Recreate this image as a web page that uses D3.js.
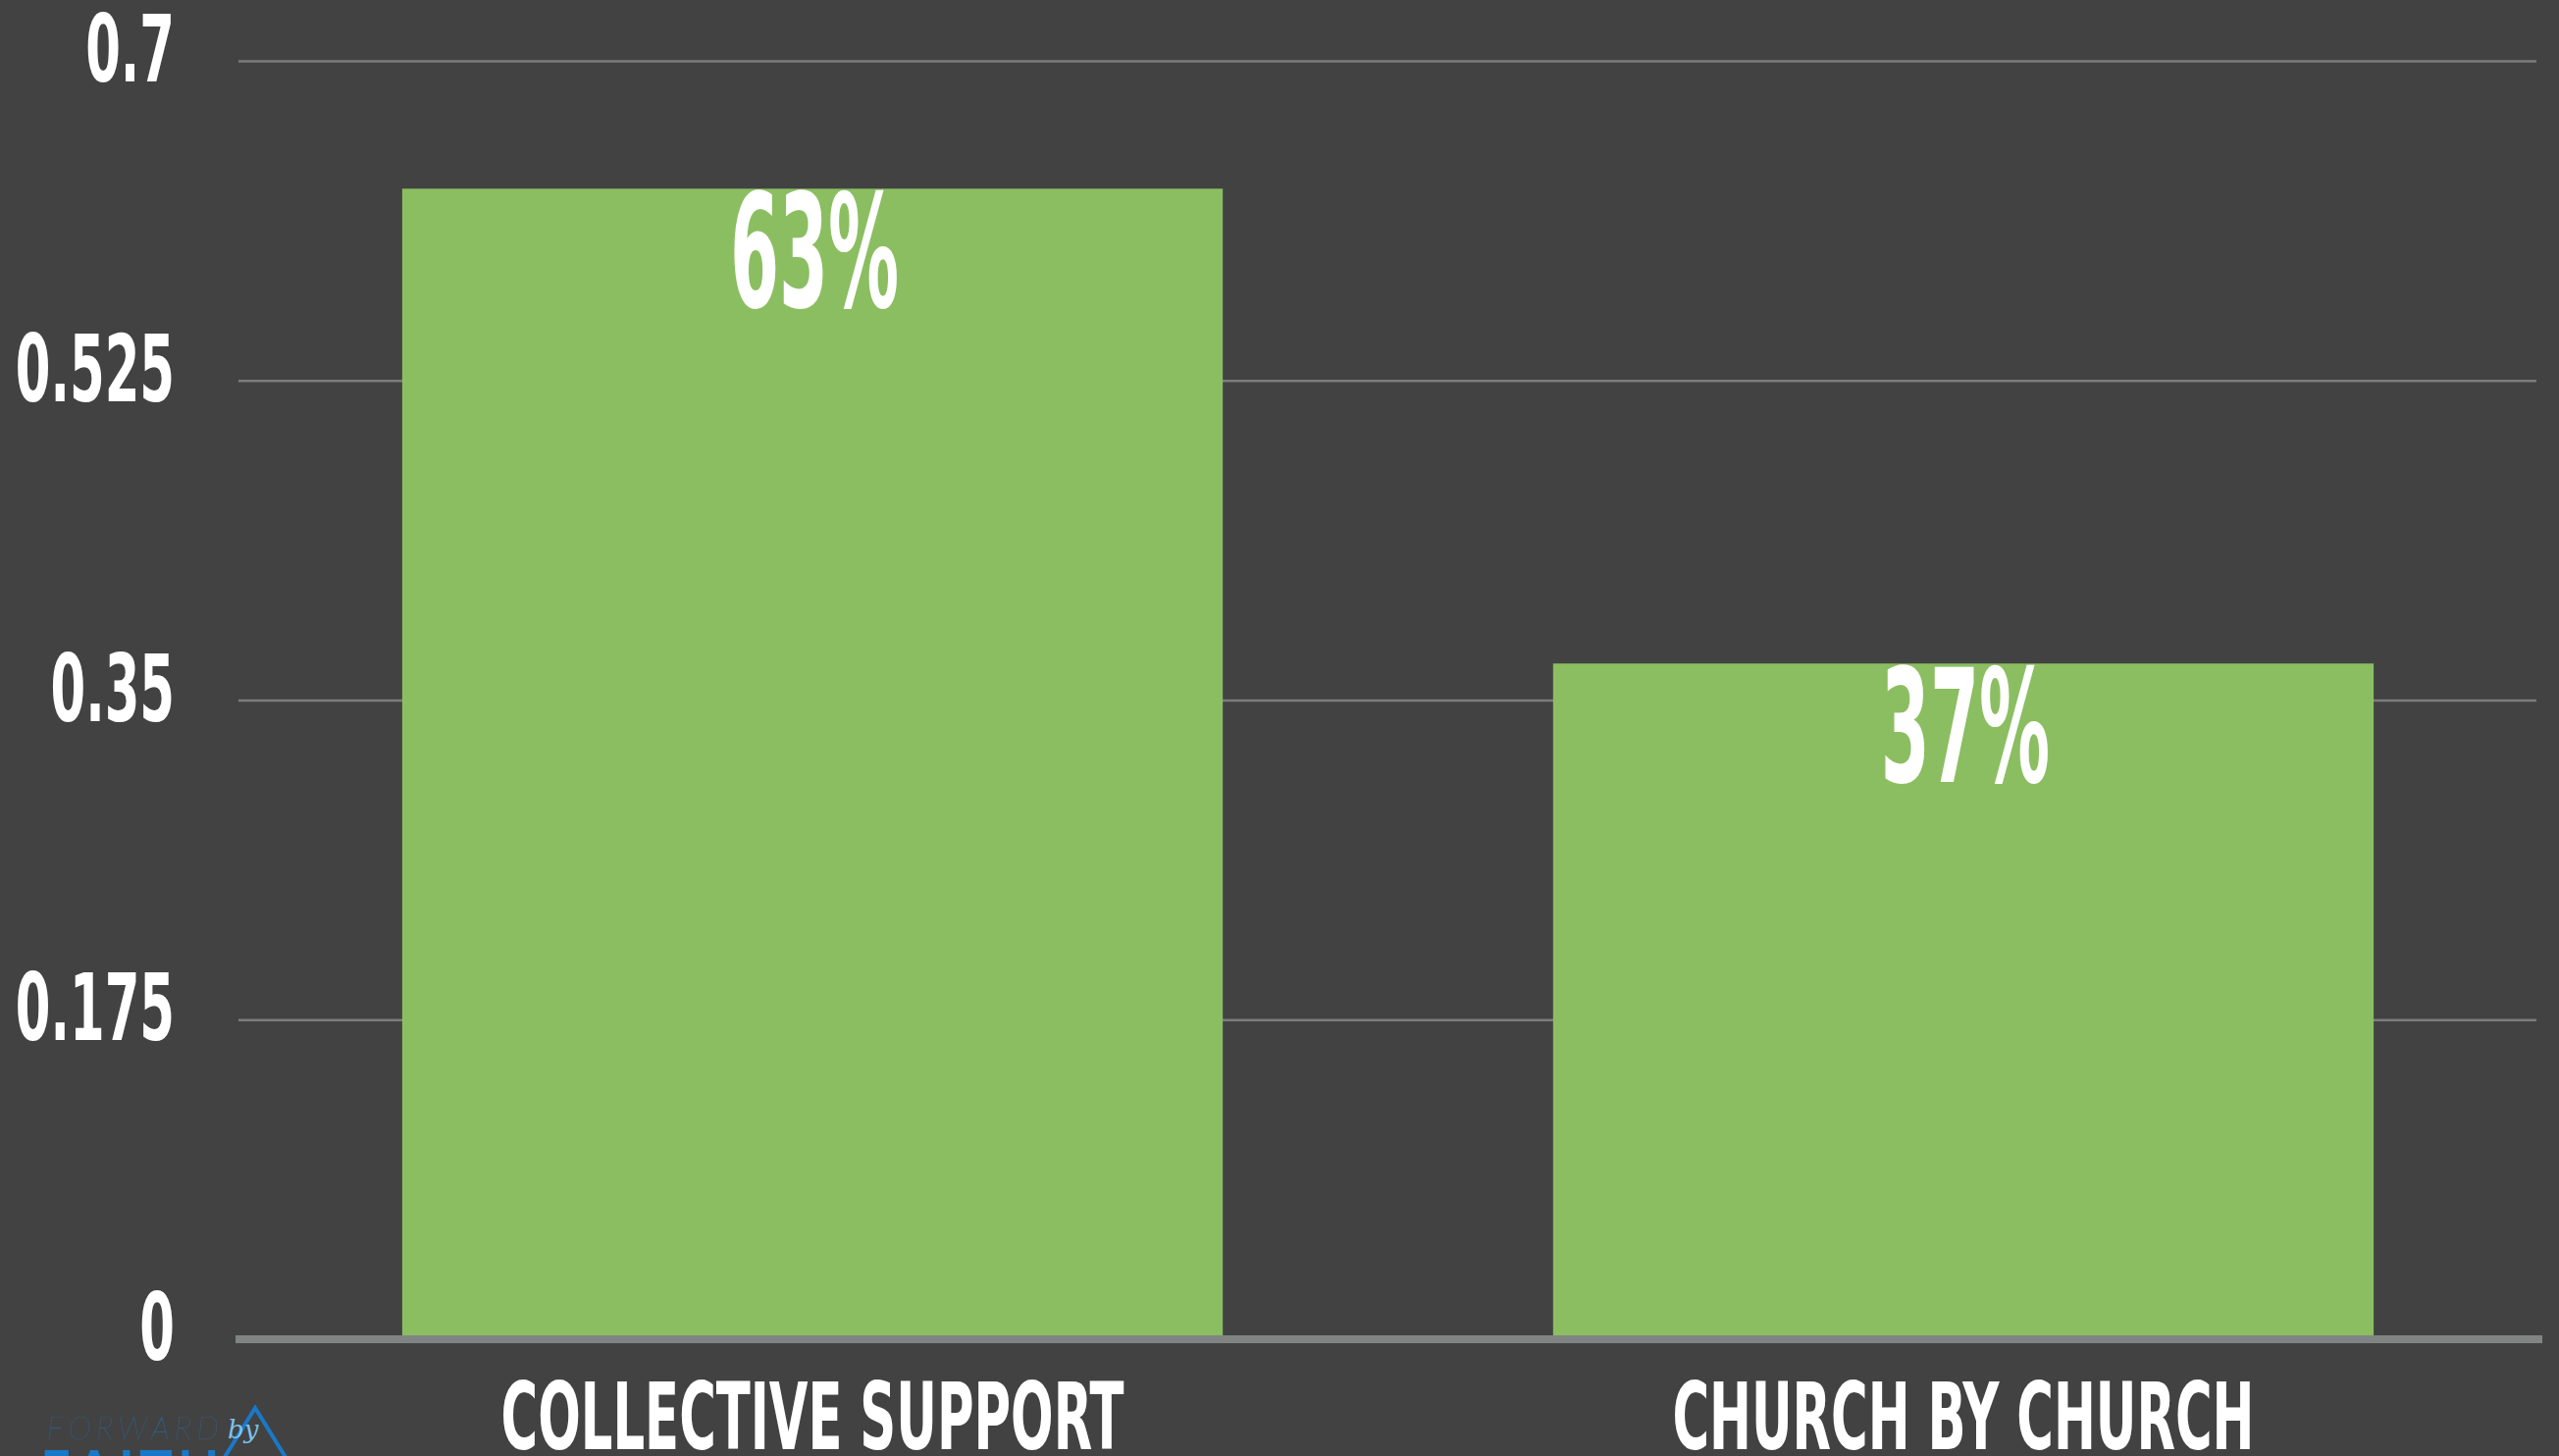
<!DOCTYPE html>
<html>
<head>
<meta charset="utf-8">
<script src="https://cdn.jsdelivr.net/npm/d3@7"></script>
<style>
  html, body { margin: 0; padding: 0; background: #424242; overflow: hidden; }
  svg { display: block; }
</style>
</head>
<body>
<div id="chart"></div>
<script>
const W = 2608, H = 1484;
const FONT = "'Liberation Sans Narrow', 'DejaVu Sans Condensed', 'Noto Sans', sans-serif";

// data
const categories = ["COLLECTIVE SUPPORT", "CHURCH BY CHURCH"];
const values = [0.63, 0.37];
const valueLabels = ["63%", "37%"];
const yTicks = [0, 0.175, 0.35, 0.525, 0.7];
const yTickLabels = ["0", "0.175", "0.35", "0.525", "0.7"];

const svg = d3.select("#chart").append("svg")
    .attr("width", W)
    .attr("height", H);

svg.append("rect").attr("width", W).attr("height", H).attr("fill", "#424242");

const y = d3.scaleLinear().domain([0, 0.7]).range([1365, 62]);
const x = d3.scaleBand()
    .domain(categories)
    .range([241, 2588])
    .paddingInner(0.287)
    .paddingOuter(0.144);

// squeezed text helper, to get the condensed look
function ctext(g, tx, ty, str, size, sx, anchor) {
    return g.append("text")
        .attr("transform", `translate(${tx},${ty}) scale(${sx},1)`)
        .attr("text-anchor", anchor)
        .attr("font-family", FONT)
        .attr("font-weight", "bold")
        .attr("font-size", size)
        .attr("fill", "#ffffff")
        .text(str);
}

// gridlines
const yAxis = d3.axisLeft(y).tickValues(yTicks.filter(d => d > 0))
    .tickSize(-(2585 - 243)).tickFormat("");
const gGrid = svg.append("g").attr("transform", "translate(243,0)").call(yAxis);
gGrid.select(".domain").remove();
gGrid.selectAll(".tick line").attr("stroke", "#7c7c7c").attr("stroke-width", 2.5);

// bars
svg.selectAll("rect.bar")
    .data(values)
    .enter().append("rect")
    .attr("class", "bar")
    .attr("x", (d, i) => x(categories[i]))
    .attr("y", d => y(d))
    .attr("width", x.bandwidth())
    .attr("height", d => y(0) - y(d))
    .attr("fill", "#8bbe61");

// baseline
svg.append("line")
    .attr("x1", 240).attr("x2", 2591)
    .attr("y1", y(0)).attr("y2", y(0))
    .attr("stroke", "#808584")
    .attr("stroke-width", 8);

// y tick labels
const gLab = svg.append("g");
yTicks.forEach((t, i) => {
    ctext(gLab, 178, y(t) + 21, yTickLabels[i], 95, 0.6, "end");
});

// value labels
values.forEach((v, i) => {
    ctext(gLab, x(categories[i]) + x.bandwidth() / 2 + 2, y(v) + 121, valueLabels[i], 160, 0.5, "middle");
});

// category labels
categories.forEach((c, i) => {
    ctext(gLab, x(c) + x.bandwidth() / 2, 1477, c, 95, 0.6, "middle");
});

// logo in the corner (cut off by the frame)
const logo = svg.append("g");
logo.append("text")
    .attr("x", 48).attr("y", 1467)
    .attr("font-family", "Lato, 'Open Sans', sans-serif")
    .attr("font-style", "italic")
    .attr("font-weight", 200)
    .attr("font-size", 32)
    .attr("letter-spacing", 5)
    .attr("fill", "#1d6fae")
    .text("FORWARD");
logo.append("text")
    .attr("x", 40).attr("y", 1521)
    .attr("font-family", "'Open Sans', sans-serif")
    .attr("font-weight", 600)
    .attr("font-size", 60)
    .attr("letter-spacing", 4)
    .attr("fill", "#1a78c8")
    .text("FAITH");
logo.append("path")
    .attr("d", "M226,1490 L260,1435 L294,1490")
    .attr("fill", "none")
    .attr("stroke", "#1a78c8")
    .attr("stroke-width", 4);
logo.append("text")
    .attr("x", 232).attr("y", 1466)
    .attr("font-family", "'DejaVu Serif', serif")
    .attr("font-style", "italic")
    .attr("font-size", 26)
    .attr("fill", "#7cc4ec")
    .text("by");
</script>
</body>
</html>
